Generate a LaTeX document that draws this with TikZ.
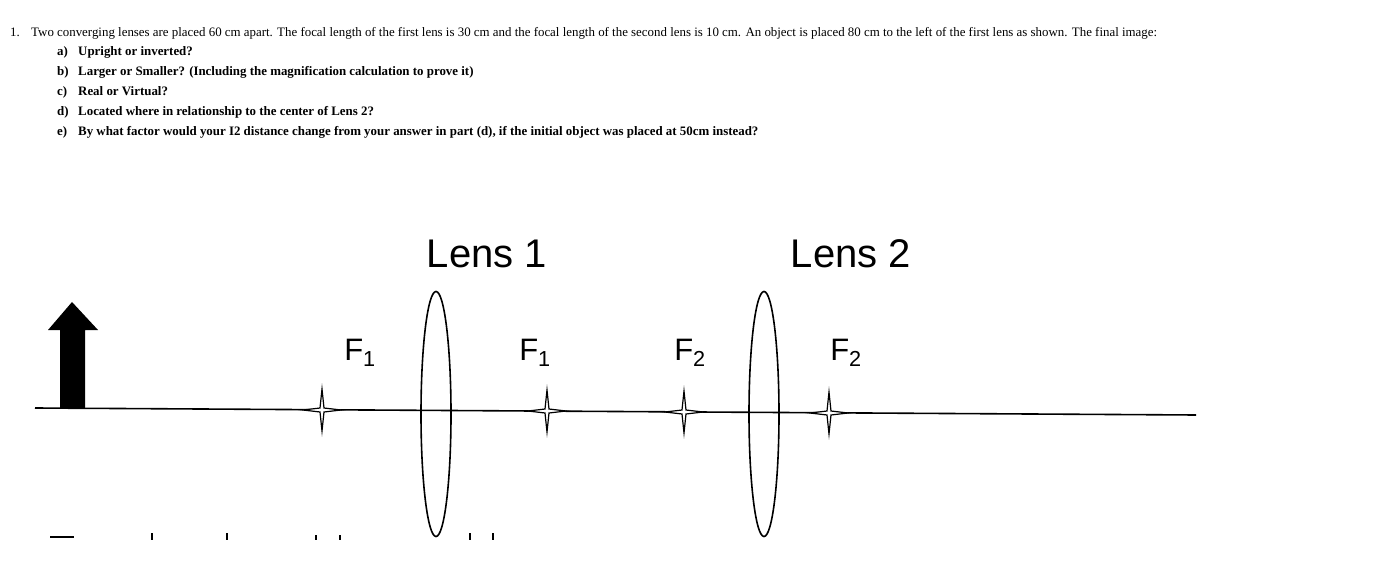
\documentclass[tikz,border=0pt]{standalone}
\usepackage{fontspec}
\usetikzlibrary{shapes.geometric}
\setmainfont{Liberation Serif}
\newfontfamily\arialf{Liberation Sans}
\begin{document}
\begin{tikzpicture}[x=1pt,y=-1pt,
  qtext/.style={anchor=base west,inner sep=0pt,font=\fontsize{12.9}{15}\selectfont},
  qitem/.style={anchor=base west,inner sep=0pt,font=\bfseries\fontsize{12.9}{15}\selectfont},
  flabel/.style={inner sep=0pt,font=\arialf\fontsize{31}{34}\selectfont},
  lensl/.style={inner sep=0pt,font=\arialf\fontsize{40}{44}\selectfont},
  lens/.style={draw,line width=1.6pt,ellipse,minimum width=30pt,minimum height=245pt,inner sep=0pt},
  fstar/.style={fill=white,draw,line width=1.2pt}]
\useasboundingbox (0,0) rectangle (1376,569);
\node[qtext] (n1) at (10,37) {1.};
\node[qtext] (t1) at (31,37) {Two converging lenses are placed 60 cm apart. The focal length of the first lens is 30 cm and the focal length of the second lens is 10 cm. An object is placed 80 cm to the left of the first lens as shown. The final image:};
\node[qitem] (la) at (57,56) {a)};\node[qitem] (ia) at (78,56) {Upright or inverted?};
\node[qitem] (lb) at (57,76) {b)};\node[qitem] (ib) at (78,76) {Larger or Smaller? (Including the magnification calculation to prove it)};
\node[qitem] (lc) at (57,96) {c)};\node[qitem] (ic) at (78,96) {Real or Virtual?};
\node[qitem] (ld) at (57,116) {d)};\node[qitem] (id) at (78,116) {Located where in relationship to the center of Lens 2?};
\node[qitem] (le) at (57,136) {e)};\node[qitem] (ie) at (78,136) {By what factor would your I2 distance change from your answer in part (d), if the initial object was placed at 50cm instead?};
% axis
\coordinate (axl) at (35,408);
\coordinate (axr) at (1196,415);
\draw[line width=1.6pt] (axl) -- (axr);
% lenses
\node[lens] (L1) at (436,414) {};
\node[lens] (L2) at (764,414) {};
\node[lensl] (t1l) at (487,254) {Lens 1};
\node[lensl] (t2l) at (851,254) {Lens 2};
% object arrow
\fill (60,408) -- (60,330) -- (48,330) -- (72,302) -- (98,330) -- (85,330) -- (85,408) -- cycle;
% focal stars
\foreach \x/\y in {322/410,547/411,684/412,829/413}{
  \draw[fstar] (\x,\y-21) -- (\x+2,\y-2) -- (\x+19,\y) -- (\x+2,\y+2) -- (\x,\y+21) -- (\x-2,\y+2) -- (\x-19,\y) -- (\x-2,\y-2) -- cycle;
}
\node[flabel] (f1a) at (360,353) {F\textsubscript{1}};
\node[flabel] (f1b) at (535,353) {F\textsubscript{1}};
\node[flabel] (f2a) at (690,353) {F\textsubscript{2}};
\node[flabel] (f2b) at (846,353) {F\textsubscript{2}};
% clipped text fragments at bottom
\begin{scope}[line width=2pt]
\draw (50,537) -- (74,537);
\draw (152,533) -- (152,540);
\draw (227,533) -- (227,540);
\draw (316,535) -- (316,540);
\draw (340,535) -- (340,540);
\draw (470,533) -- (470,540);
\draw (493,533) -- (493,540);
\end{scope}
\end{tikzpicture}
\end{document}
